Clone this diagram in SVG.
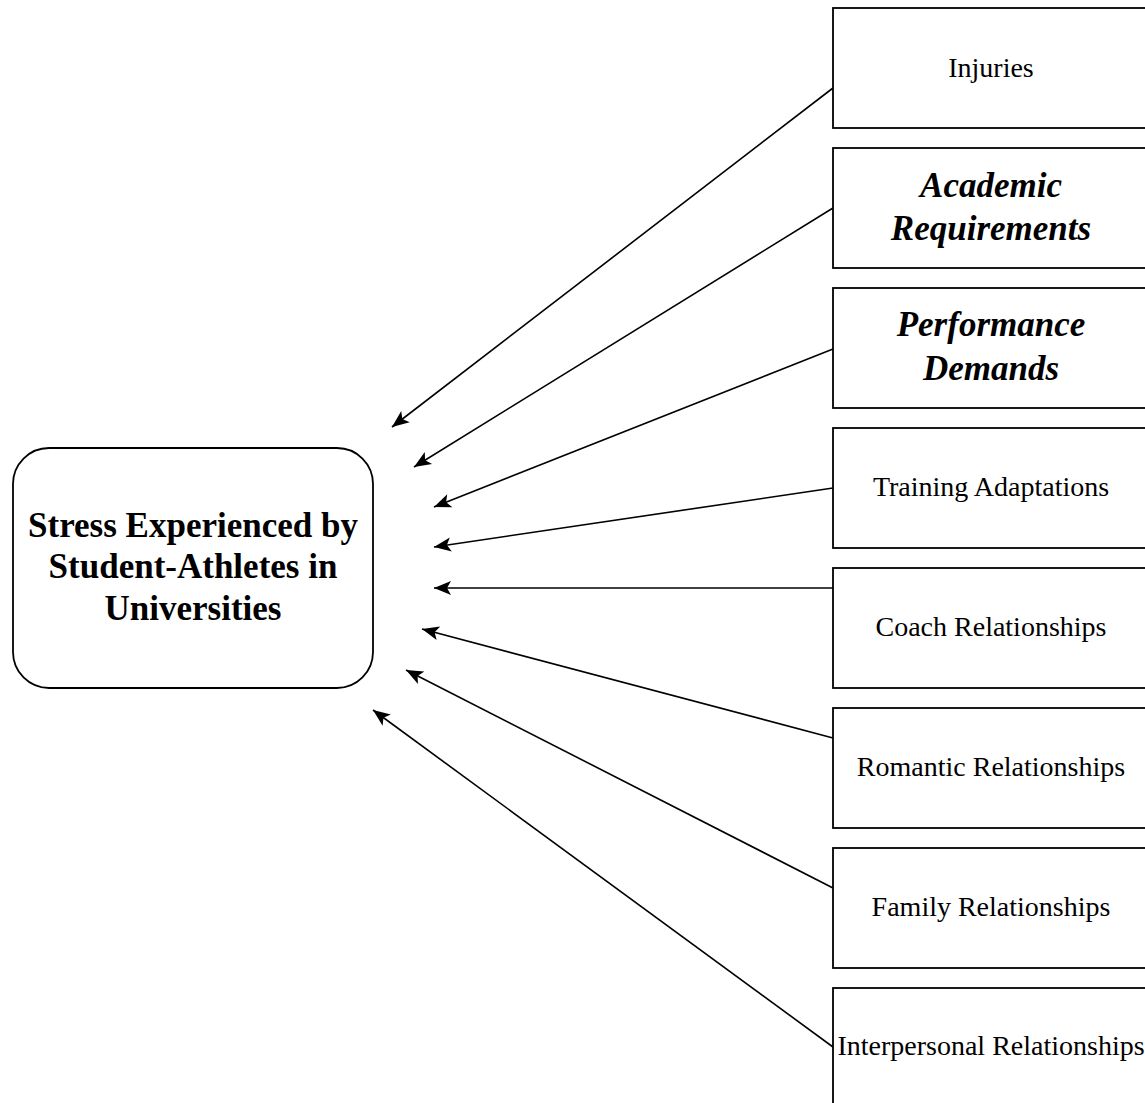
<svg xmlns="http://www.w3.org/2000/svg" width="1145" height="1103" viewBox="0 0 1145 1103">
  <defs>
    <marker id="arrow" markerUnits="userSpaceOnUse" markerWidth="18" markerHeight="14" refX="17" refY="7" orient="auto" overflow="visible">
      <path d="M0,0 L17,7 L0,14 L4,7 Z" fill="#000"/>
    </marker>
    <style>
      .box { fill: #fff; stroke: #000; stroke-width: 1.8; }
      .t { font-family: "Liberation Serif", "Times New Roman", serif; font-size: 28px; fill: #000; text-anchor: middle; }
      .bi { font-family: "Liberation Serif", "Times New Roman", serif; font-size: 35px; font-weight: bold; font-style: italic; fill: #000; text-anchor: middle; }
      .b { font-family: "Liberation Serif", "Times New Roman", serif; font-size: 35px; font-weight: bold; fill: #000; text-anchor: middle; }
      .edge { fill: none; stroke: #000; stroke-width: 1.6; marker-end: url(#arrow); }
    </style>
  </defs>
  <rect width="1145" height="1103" fill="#fff"/>

  <g id="connectors">
    <path class="edge" d="M833,88 L392,427"/>
    <path class="edge" d="M833,208 L414,467"/>
    <path class="edge" d="M833,349 L434,507"/>
    <path class="edge" d="M833,488 L434,547"/>
    <path class="edge" d="M833,588 L434,588"/>
    <path class="edge" d="M833,738 L422,629"/>
    <path class="edge" d="M833,888 L406,670"/>
    <path class="edge" d="M833,1047 L373,710"/>
  </g>

  <g id="node-stress">
    <rect class="box" x="13" y="448" width="360" height="240" rx="36" ry="36"/>
    <text class="b" x="193" y="537">Stress Experienced by</text>
    <text class="b" x="193" y="578">Student-Athletes in</text>
    <text class="b" x="193" y="620">Universities</text>
  </g>

  <g id="node-injuries">
    <rect class="box" x="833" y="8" width="316" height="120"/>
    <text class="t" x="991" y="77">Injuries</text>
  </g>
  <g id="node-academic">
    <rect class="box" x="833" y="148" width="316" height="120"/>
    <text class="bi" x="991" y="197">Academic</text>
    <text class="bi" x="991" y="240">Requirements</text>
  </g>
  <g id="node-performance">
    <rect class="box" x="833" y="288" width="316" height="120"/>
    <text class="bi" x="991" y="336">Performance</text>
    <text class="bi" x="991" y="380">Demands</text>
  </g>
  <g id="node-training">
    <rect class="box" x="833" y="428" width="316" height="120"/>
    <text class="t" x="991" y="496">Training Adaptations</text>
  </g>
  <g id="node-coach">
    <rect class="box" x="833" y="568" width="316" height="120"/>
    <text class="t" x="991" y="636">Coach Relationships</text>
  </g>
  <g id="node-romantic">
    <rect class="box" x="833" y="708" width="316" height="120"/>
    <text class="t" x="991" y="776">Romantic Relationships</text>
  </g>
  <g id="node-family">
    <rect class="box" x="833" y="848" width="316" height="120"/>
    <text class="t" x="991" y="916">Family Relationships</text>
  </g>
  <g id="node-interpersonal">
    <rect class="box" x="833" y="988" width="316" height="120"/>
    <text class="t" x="991" y="1055">Interpersonal Relationships</text>
  </g>
</svg>
